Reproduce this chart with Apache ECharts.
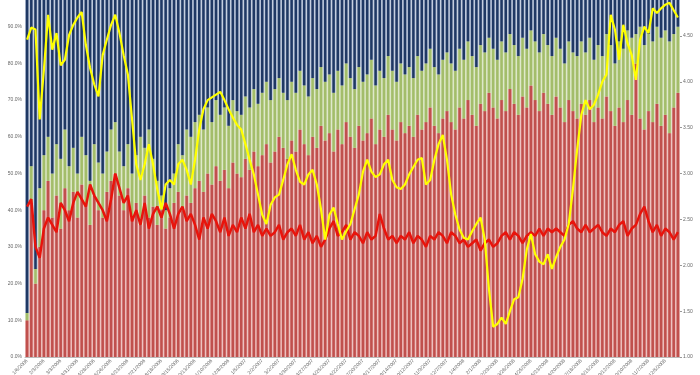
<!DOCTYPE html>
<html><head><meta charset="utf-8">
<script src="https://cdn.jsdelivr.net/npm/echarts@6/dist/echarts.min.js"></script>
<style>html,body{margin:0;padding:0;background:#fff}#c{width:700px;height:375px}</style>
</head><body><div id="c"></div>
<script>
const categories = ("1/6/2006,1/13/2006,1/20/2006,1/27/2006,2/3/2006,2/10/2006,2/17/2006,2/24/2006,3/3/2006,3/10/2006,3/17/2006,3/24/2006,3/31/2006,4/7/2006,4/14/2006,4/21/2006,4/28/2006,5/5/2006,5/12/2006,5/19/2006,5/26/2006,6/2/2006,6/9/2006,6/16/2006,6/23/2006,6/30/2006,7/7/2006,7/14/2006,7/21/2006,7/28/2006,8/4/2006,8/11/2006,8/18/2006,8/25/2006,9/1/2006,9/8/2006,9/15/2006,9/22/2006,9/29/2006,10/6/2006,10/13/2006,10/20/2006,10/27/2006,11/3/2006,11/10/2006,11/17/2006,11/24/2006,12/1/2006,12/8/2006,12/15/2006,12/22/2006,12/29/2006," +
"1/5/2007,1/12/2007,1/19/2007,1/26/2007,2/2/2007,2/9/2007,2/16/2007,2/23/2007,3/2/2007,3/9/2007,3/16/2007,3/23/2007,3/30/2007,4/6/2007,4/13/2007,4/20/2007,4/27/2007,5/4/2007,5/11/2007,5/18/2007,5/25/2007,6/1/2007,6/8/2007,6/15/2007,6/22/2007,6/29/2007,7/6/2007,7/13/2007,7/20/2007,7/27/2007,8/3/2007,8/10/2007,8/17/2007,8/24/2007,8/31/2007,9/7/2007,9/14/2007,9/21/2007,9/28/2007,10/5/2007,10/12/2007,10/19/2007,10/26/2007,11/2/2007,11/9/2007,11/16/2007,11/23/2007,11/30/2007,12/7/2007,12/14/2007,12/21/2007,12/28/2007," +
"1/4/2008,1/11/2008,1/18/2008,1/25/2008,2/1/2008,2/8/2008,2/15/2008,2/22/2008,2/29/2008,3/7/2008,3/14/2008,3/21/2008,3/28/2008,4/4/2008,4/11/2008,4/18/2008,4/25/2008,5/2/2008,5/9/2008,5/16/2008,5/23/2008,5/30/2008,6/6/2008,6/13/2008,6/20/2008,6/27/2008,7/4/2008,7/11/2008,7/18/2008,7/25/2008,8/1/2008,8/8/2008,8/15/2008,8/22/2008,8/29/2008,9/5/2008,9/12/2008,9/19/2008,9/26/2008,10/3/2008,10/10/2008,10/17/2008,10/24/2008,10/31/2008,11/7/2008,11/14/2008,11/21/2008,11/28/2008,12/5/2008,12/12/2008,12/19/2008,12/26/2008").split(",");

// bottom (red) bar share, %
const redShare = [10,
42,20,30,40,48,38,44,35,46,40,
45,38,47,42,36,44,40,38,45,48,
50,44,40,46,38,42,36,44,38,41,
36,40,35,38,42,45,40,44,42,46,
48,45,50,47,52,48,51,46,53,50,
49,54,51,56,52,55,58,53,56,60,
57,54,59,56,62,58,55,60,57,63,
59,61,56,62,58,64,60,57,63,59,
61,65,58,62,60,66,62,59,64,61,
63,60,66,62,64,68,63,61,65,67,
64,62,68,65,70,66,63,69,67,72,
68,65,70,67,73,69,66,71,68,74,
70,67,72,69,66,71,68,64,70,67,
65,69,66,70,64,68,65,71,67,63,
68,64,70,66,80,65,62,67,64,69,
63,66,61,68,72];

// top of green band (red + green), %
const greenTop = [12,
52,24,46,55,60,50,58,54,62,52,
57,50,60,55,48,58,53,50,56,62,
64,56,52,58,50,55,60,57,62,54,
48,44,40,46,50,58,55,62,60,64,
66,62,68,64,70,66,68,63,70,67,
66,71,68,73,69,72,75,70,73,76,
72,70,75,72,78,74,71,76,73,79,
75,77,72,78,74,80,76,73,79,75,
77,81,74,78,76,82,78,75,80,77,
79,76,82,78,80,84,79,77,81,83,
80,78,84,81,86,82,79,85,83,87,
84,81,86,83,88,85,82,87,84,89,
86,83,88,85,82,87,84,80,86,83,
82,86,83,87,81,85,82,88,85,80,
86,84,89,87,88,90,85,88,86,90,
87,89,86,88,90];

// red line, % (left axis)
const redLine = [41,
43,30,27,35,38,36,34,42,40,37,
42,45,43,41,47,44,42,40,37,43,
50,46,42,44,37,40,36,42,35,39,
41,38,42,39,35,39,41,37,39,36,
32,38,35,39,37,34,38,33,36,34,
38,35,39,34,36,33,35,33,34,36,
32,34,35,33,36,32,34,31,33,30,
32,35,37,33,34,36,32,34,33,31,
34,32,33,39,35,32,33,31,33,32,
34,31,33,32,30,33,32,34,33,31,
34,33,31,32,30,31,32,29,31,32,
30,31,33,34,32,34,33,31,33,34,
33,35,33,35,34,35,34,33,36,37,
35,34,36,34,35,36,34,33,35,34,
36,37,33,35,36,39,41,37,34,36,
33,35,34,32,34];

// yellow line (right axis)
const yellowLine = [4.46,
4.59,4.57,3.59,4.13,4.73,4.35,4.53,4.18,4.24,4.51,
4.62,4.70,4.76,4.40,4.15,3.97,3.84,4.29,4.46,4.62,
4.73,4.53,4.29,4.08,3.59,3.10,2.93,3.10,3.32,3.10,
2.83,2.61,2.88,2.93,2.88,3.10,3.15,3.04,2.88,3.15,
3.48,3.70,3.80,3.83,3.86,3.89,3.80,3.70,3.61,3.53,
3.48,3.32,3.15,2.99,2.77,2.55,2.45,2.66,2.74,2.77,
2.93,3.10,3.21,3.04,2.91,2.88,2.99,3.04,2.88,2.61,
2.28,2.55,2.63,2.45,2.28,2.37,2.45,2.61,2.77,3.02,
3.15,3.02,2.96,2.99,3.10,3.15,2.93,2.85,2.83,2.88,
2.99,3.07,3.15,3.17,2.88,2.93,3.15,3.32,3.42,3.15,
2.77,2.55,2.39,2.30,2.28,2.37,2.45,2.52,2.28,1.74,
1.33,1.36,1.43,1.36,1.50,1.63,1.65,1.85,2.17,2.34,
2.12,2.04,2.01,2.12,1.96,2.09,2.20,2.28,2.45,2.83,
3.26,3.64,3.80,3.70,3.75,3.86,4.00,4.08,4.73,4.57,
4.24,4.62,4.42,4.29,4.02,4.46,4.60,4.53,4.80,4.75,
4.80,4.84,4.86,4.78,4.70];

const leftTicks = {min: 0, max: 100, step: 10};
const rightTicks = {min: 1, max: 5, step: 0.5};

const greenShare = greenTop.map((t, i) => t - redShare[i]);
const navyShare = greenTop.map(t => 100 - t);

const chart = echarts.init(document.getElementById('c'), null, {renderer: 'canvas'});
const lbl = {fontSize: 5, color: '#666', fontFamily: 'Liberation Sans'};
function barSeries(name, data, color, axis, stack, gap, z) {
  return {name, type: 'bar', data, stack, xAxisIndex: axis, yAxisIndex: 0,
    barCategoryGap: gap, itemStyle: {color}, silent: true, z, animation: false};
}
chart.setOption({
  animation: false,
  grid: {left: 25, right: 20, top: -10, bottom: 18, containLabel: false, outerBoundsMode: 'none'},
  xAxis: [
    {type: 'category', data: categories, boundaryGap: true,
     axisLine: {lineStyle: {color: '#bbb'}}, axisTick: {show: false},
     axisLabel: Object.assign({interval: 3, rotate: 45, margin: 3}, lbl)},
    {type: 'category', data: categories, show: false}
  ],
  yAxis: [
    {type: 'value', min: leftTicks.min, max: leftTicks.max, interval: leftTicks.step,
     splitLine: {show: false}, axisLine: {show: false}, axisTick: {show: false},
     axisLabel: Object.assign({formatter: v => v.toFixed(1) + '%', margin: 3}, lbl)},
    {type: 'value', position: 'right', min: rightTicks.min, max: rightTicks.max, interval: rightTicks.step,
     splitLine: {show: false}, axisLine: {show: false},
     axisTick: {show: true, length: 2, lineStyle: {color: '#999'}},
     axisLabel: Object.assign({formatter: v => v.toFixed(2), margin: 3}, lbl)}
  ],
  series: [
    barSeries('redBg', redShare, '#e8b0ae', 1, 'bg', '0%', 1),
    barSeries('greenBg', greenShare, '#d5e2bb', 1, 'bg', '0%', 1),
    barSeries('navyBg', navyShare, '#b4c0d6', 1, 'bg', '0%', 1),
    barSeries('red', redShare, '#c0504d', 0, 'fg', '40%', 2),
    barSeries('green', greenShare, '#a3bd6a', 0, 'fg', '40%', 2),
    barSeries('navy', navyShare, '#1f3864', 0, 'fg', '40%', 2),
    {name: 'redLine', type: 'line', data: redLine, yAxisIndex: 0, xAxisIndex: 0,
     symbol: 'none', lineStyle: {color: '#e8140c', width: 2.5}, z: 5},
    {name: 'yellowLine', type: 'line', data: yellowLine, yAxisIndex: 1, xAxisIndex: 0,
     symbol: 'none', lineStyle: {color: '#ffff00', width: 2.2}, z: 6}
  ]
});
</script></body></html>
